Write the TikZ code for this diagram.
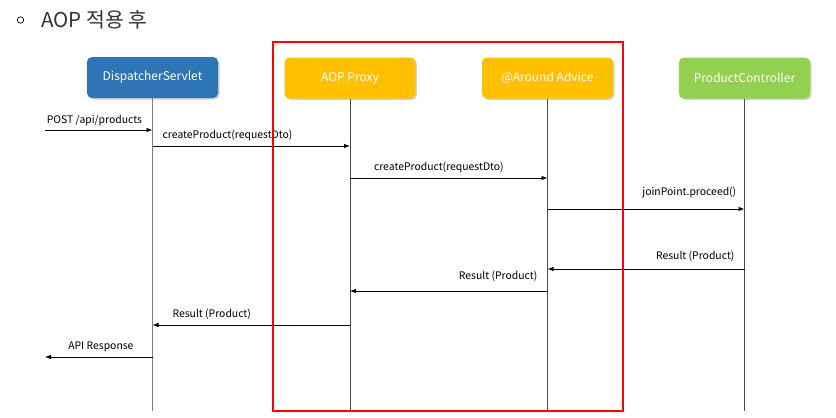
\documentclass[tikz,border=0pt]{standalone}
\usepackage{fontspec}
\setmainfont{Noto Sans CJK KR}
\usetikzlibrary{arrows.meta,positioning,calc,shadows}

\definecolor{dsblue}{HTML}{2E75B6}
\definecolor{aopyellow}{HTML}{FFC000}
\definecolor{ctrlgreen}{HTML}{92D050}

\tikzset{
  actor/.style={rounded corners=5pt, minimum width=131pt, minimum height=41pt,
    text=white, font=\fontsize{12}{14}\selectfont, inner sep=0pt,
    drop shadow={opacity=0.35, shadow xshift=1.5pt, shadow yshift=-1.5pt}},
  life/.style={draw=black!70, line width=0.6pt},
  msg/.style={-{Latex[length=6pt,width=4.5pt]}, line width=0.8pt},
  lbl/.style={font=\fontsize{10.4}{12}\selectfont, inner sep=0pt, anchor=center}
}

\begin{document}
\begin{tikzpicture}[x=1pt,y=-1pt]
  \useasboundingbox (0,0) rectangle (836,418);

  % title
  \draw[line width=0.7pt] (20.5,20) circle [radius=3.2pt];
  \node[anchor=west, font=\fontsize{20.5}{23}\selectfont, text=black!80] (title) at (38,19.5) {AOP 적용 후};

  % actors
  \node[actor, fill=dsblue] (ds) at (152.5,77.5) {DispatcherServlet};
  \node[actor, fill=aopyellow] (proxy) at (350,78) {AOP Proxy};
  \node[actor, fill=aopyellow] (advice) at (547.5,78) {@Around Advice};
  \node[actor, fill=ctrlgreen] (ctrl) at (744.5,78) {ProductController};

  % lifelines
  \coordinate (bottom) at (0,411);
  \draw[life, draw=black!50, line width=1pt] (ds.south) -- (ds.south |- bottom);
  \draw[life] (proxy.south) -- (proxy.south |- bottom);
  \draw[life] (advice.south) -- (advice.south |- bottom);
  \draw[life] (ctrl.south) -- (ctrl.south |- bottom);

  % message rows
  \coordinate (m1) at (0,130);
  \coordinate (m2) at (0,146);
  \coordinate (m3) at (0,178);
  \coordinate (m4) at (0,209);
  \coordinate (m5) at (0,269);
  \coordinate (m6) at (0,291);
  \coordinate (m7) at (0,325);
  \coordinate (m8) at (0,357);
  \coordinate (client in) at (45,130);
  \coordinate (client out) at (45,357);

  % calls
  \draw[msg] (client in) -- node[lbl, pos=0.46, yshift=9pt] {POST /api/products} (ds.south |- m1);
  \draw[msg] (ds.south |- m2) -- node[lbl, pos=0.38, yshift=11pt] {createProduct(requestDto)} (proxy.south |- m2);
  \draw[msg] (proxy.south |- m3) -- node[lbl, pos=0.45, yshift=11pt] {createProduct(requestDto)} (advice.south |- m3);
  \draw[msg] (advice.south |- m4) -- node[lbl, pos=0.72, yshift=16pt] {joinPoint.proceed()} (ctrl.south |- m4);

  % returns
  \draw[msg] (ctrl.south |- m5) -- node[lbl, pos=0.25, yshift=13pt] {Result (Product)} (advice.south |- m5);
  \draw[msg] (advice.south |- m6) -- node[lbl, pos=0.25, yshift=15pt] {Result (Product)} (proxy.south |- m6);
  \draw[msg] (proxy.south |- m7) -- node[lbl, pos=0.70, yshift=11pt] {Result (Product)} (ds.south |- m7);
  \draw[msg] (ds.south |- m8) -- node[lbl, pos=0.48, yshift=10pt] {API Response} (client out);

  % AOP area
  \draw[red, line width=2.5pt] (273,42) rectangle (623,411);
\end{tikzpicture}
\end{document}
